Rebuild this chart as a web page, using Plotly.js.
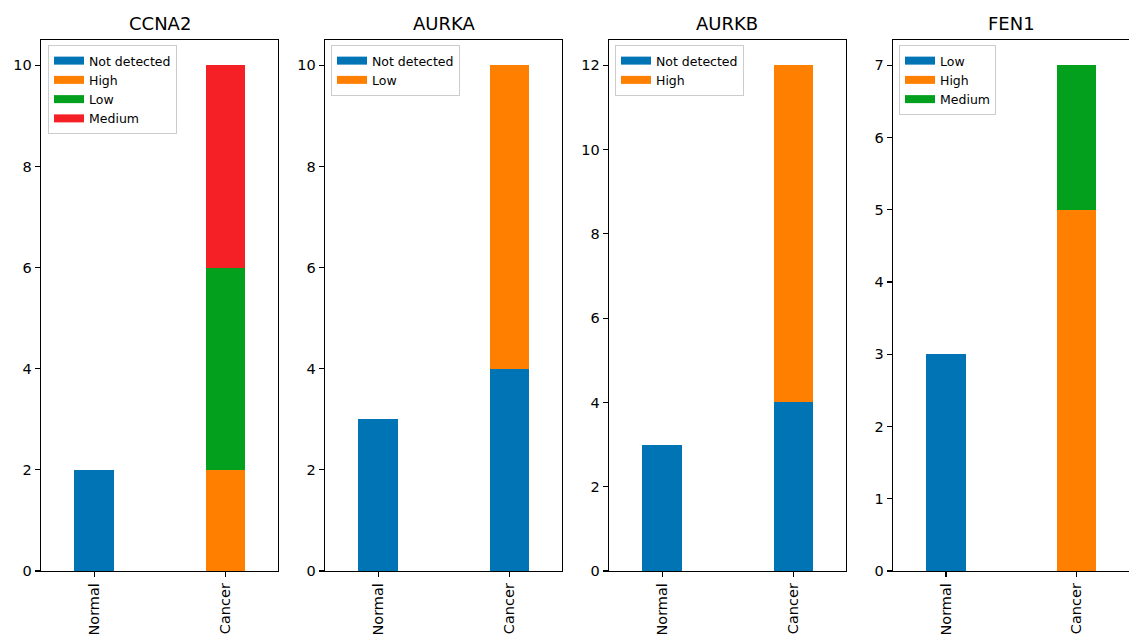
<!DOCTYPE html>
<html>
<head>
<meta charset="utf-8">
<script src="https://cdn.plot.ly/plotly-3.0.1.min.js"></script>
<style>html,body{margin:0;padding:0;background:#fff}#chart{width:1129px;height:641px}</style>
</head>
<body>
<div id="chart"></div>
<script>
// ---- data ----
const categories = ['Normal', 'Cancer'];
const geneTitles = ['CCNA2', 'AURKA', 'AURKB', 'FEN1'];

const ccna2Series = ['Not detected', 'High', 'Low', 'Medium'];
const ccna2NotDetected = [2, 0];
const ccna2High = [0, 2];
const ccna2Low = [0, 4];
const ccna2Medium = [0, 4];

const aurkaSeries = ['Not detected', 'Low'];
const aurkaNotDetected = [3, 4];
const aurkaLow = [0, 6];

const aurkbSeries = ['Not detected', 'High'];
const aurkbNotDetected = [3, 4];
const aurkbHigh = [0, 8];

const fen1Series = ['Low', 'High', 'Medium'];
const fen1Low = [3, 0];
const fen1High = [0, 5];
const fen1Medium = [0, 2];

const yMax = [10.5, 10.5, 12.6, 7.35];
const yDtick = [2, 2, 2, 1];

// ---- styling ----
const colors = ['#0174b6', '#ff7f00', '#02a01c', '#f51f26'];
const W = 1129, H = 641, plotTop = 40, plotBottom = 571;
const panelsPx = [[41, 278], [325, 562], [609, 846], [893, 1130]];
const legendPx = [[48, 45], [331, 45], [615, 45], [899, 45]];
const plotH = plotBottom - plotTop;

const panels = [
  {series: ccna2Series, values: [ccna2NotDetected, ccna2High, ccna2Low, ccna2Medium]},
  {series: aurkaSeries, values: [aurkaNotDetected, aurkaLow]},
  {series: aurkbSeries, values: [aurkbNotDetected, aurkbHigh]},
  {series: fen1Series, values: [fen1Low, fen1High, fen1Medium]}
];

const traces = [];
const layout = {
  width: W, height: H,
  margin: {l: 0, r: 0, t: plotTop, b: H - plotBottom, pad: 0},
  paper_bgcolor: '#fff', plot_bgcolor: '#fff',
  barmode: 'stack',
  font: {family: 'DejaVu Sans, sans-serif', color: '#000'},
  showlegend: true,
  annotations: []
};

panels.forEach((p, i) => {
  const k = i === 0 ? '' : String(i + 1);
  const xa = 'x' + k, ya = 'y' + k;
  const lg = i === 0 ? 'legend' : 'legend' + (i + 1);
  p.series.forEach((name, j) => {
    traces.push({
      type: 'bar', x: categories, y: p.values[j], name: name,
      xaxis: xa, yaxis: ya, width: 0.3, showlegend: false,
      marker: {color: colors[j], line: {width: 0}},
      hoverinfo: 'name+y'
    });
    traces.push({
      type: 'scatter', mode: 'lines', x: [null], y: [null], name: name,
      xaxis: xa, yaxis: ya, legend: lg, showlegend: true,
      line: {color: colors[j], width: 8}, hoverinfo: 'skip'
    });
  });
  const d0 = panelsPx[i][0] / W, d1 = Math.min(panelsPx[i][1] / W, 1);
  layout['xaxis' + k] = {
    domain: [d0, d1], anchor: ya, type: 'category',
    range: [-0.405, 1.4], showgrid: false, zeroline: false,
    showline: true, mirror: true, linecolor: '#000', linewidth: 1.3,
    ticks: 'outside', ticklen: 5, tickwidth: 1.2, tickcolor: '#000',
    tickangle: -90, tickfont: {size: 14.5, color: '#000'}, fixedrange: true
  };
  layout['yaxis' + k] = {
    domain: [0, 1], anchor: xa, range: [0, yMax[i]], dtick: yDtick[i], tick0: 0,
    showgrid: false, zeroline: false,
    showline: true, mirror: true, linecolor: '#000', linewidth: 1.3,
    ticks: 'outside', ticklen: 5, tickwidth: 1.2, tickcolor: '#000',
    tickfont: {size: 14.5, color: '#000'}, fixedrange: true
  };
  layout[lg] = {
    x: legendPx[i][0] / W, y: (plotBottom - legendPx[i][1]) / plotH,
    xanchor: 'left', yanchor: 'top', traceorder: 'normal',
    bgcolor: 'rgba(255,255,255,0.8)', bordercolor: '#cccccc', borderwidth: 1,
    font: {size: 12.5, color: '#000'}, itemwidth: 30
  };
  layout.annotations.push({
    text: geneTitles[i], xref: 'paper', yref: 'paper',
    x: (d0 + d1) / 2, y: (plotBottom - 24) / plotH, xanchor: 'center', yanchor: 'middle',
    showarrow: false, font: {size: 18, color: '#000'}
  });
});

Plotly.newPlot('chart', traces, layout, {displayModeBar: false, staticPlot: true});
</script>
</body>
</html>
